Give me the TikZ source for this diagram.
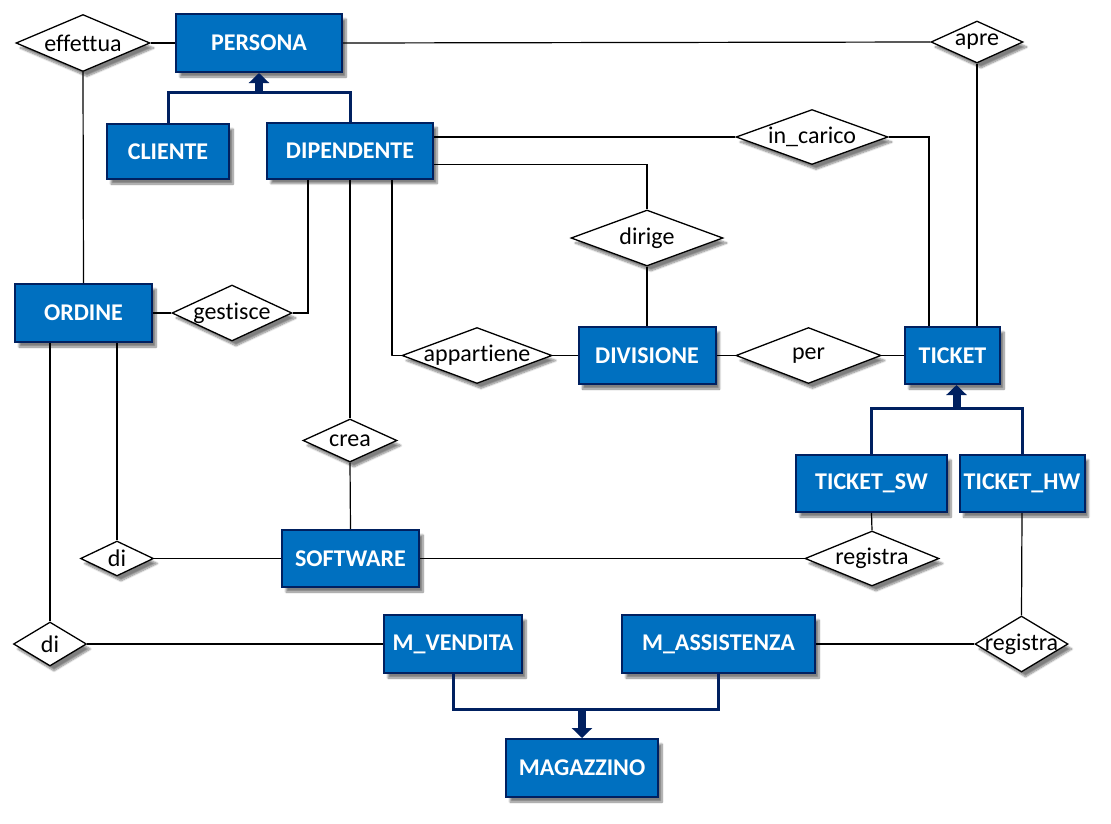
\documentclass[tikz,border=0pt]{standalone}
\usepackage{fontspec}
\setmainfont{Carlito}[Ligatures=NoCommon]
\usetikzlibrary{shapes.geometric,arrows.meta,shadows.blur}
\definecolor{boxfill}{RGB}{0,112,192}
\definecolor{boxdraw}{RGB}{0,32,96}
\tikzset{
  ent/.style={rectangle, fill=boxfill, draw=boxdraw, line width=2pt, inner sep=0pt,
    text=white, font=\fontsize{24}{28}\selectfont\bfseries,
    blur shadow={shadow xshift=4pt, shadow yshift=-5pt, shadow blur steps=8, shadow opacity=50}},
  rel/.style={diamond, fill=white, draw=black, line width=1.3pt, inner sep=0pt,
    font=\fontsize{24}{28}\selectfont,
    blur shadow={shadow xshift=4pt, shadow yshift=-5pt, shadow blur steps=8, shadow opacity=50}},
  conn/.style={draw=black, line width=1.2pt},
  isa/.style={draw=boxdraw, line width=3pt},
  isaarrow/.style={draw=boxdraw, line width=8pt, -{Triangle[width=20pt,length=10pt]}},
}
\newcommand{\zw}[1]{\makebox[0pt]{#1}}
\begin{document}
\begin{tikzpicture}[x=1pt,y=-1pt]
\useasboundingbox (0,0) rectangle (1111,823);
% entities
\node[ent, minimum width=166, minimum height=58] (pers) at (259,43) {PERSONA};
\node[ent, minimum width=122, minimum height=55] (cli) at (168,151.5) {CLIENTE};
\node[ent, minimum width=166, minimum height=56] (dip) at (350,150.5) {DIPENDENTE};
\node[ent, minimum width=137, minimum height=58] (ord) at (83.5,313) {ORDINE};
\node[ent, minimum width=137, minimum height=57] (div) at (647,355.5) {DIVISIONE};
\node[ent, minimum width=95, minimum height=57] (ticket) at (952.5,355.5) {TICKET};
\node[ent, minimum width=151, minimum height=57] (tsw) at (871.5,483.5) {TICKET\_SW};
\node[ent, minimum width=125, minimum height=57] (thw) at (1022,483.5) {TICKET\_HW};
\node[ent, minimum width=137, minimum height=57] (soft) at (350.5,558.5) {SOFTWARE};
\node[ent, minimum width=138, minimum height=58] (mv) at (453,644) {M\_VENDITA};
\node[ent, minimum width=193, minimum height=58] (mass) at (718.5,644) {M\_ASSISTENZA};
\node[ent, minimum width=152, minimum height=58] (mag) at (582,768) {MAGAZZINO};
% relationships
\node[rel, minimum width=134, minimum height=57] (eff) at (83,43) {\zw{effettua}};
\node[rel, minimum width=92, minimum height=42] (apre) at (977,42) {\zw{apre}};
\node[rel, minimum width=152, minimum height=55] (incar) at (812,137) {\zw{in\_carico}};
\node[rel, minimum width=152, minimum height=56] (dirige) at (647,238) {\zw{dirige}};
\node[rel, minimum width=120, minimum height=56] (gest) at (232,313) {\zw{gestisce}};
\node[rel, minimum width=150, minimum height=56] (app) at (477,355.5) {\zw{appartiene}};
\node[rel, minimum width=145, minimum height=56] (per) at (808.5,355.5) {\zw{per}};
\node[rel, minimum width=94, minimum height=43] (crea) at (350,440.5) {\zw{crea}};
\node[rel, minimum width=73, minimum height=35] (diup) at (117,558.5) {\zw{di}};
\node[rel, minimum width=134, minimum height=55] (regup) at (872,558.5) {\zw{registra}};
\node[rel, minimum width=73, minimum height=44] (dilow) at (50,644) {\zw{di}};
\node[rel, minimum width=93, minimum height=56] (reglow) at (1021.5,644) {\zw{registra}};
% connectors
\draw[conn] (eff.east) -- (pers.west);
\draw[conn] (eff.south) -- (ord.north);
\draw[conn] (pers.east) -- (apre.west);
\draw[conn] (apre.south) -- (apre.south |- ticket.north);
\draw[conn] ([yshift=13.5pt]dip.east) -- (incar.west);
\draw[conn] (incar.east) -| ([xshift=-23.5pt]ticket.north);
\draw[conn] ([yshift=-14pt]dip.east) -| (dirige.north);
\draw[conn] (dirige.south) -- (div.north);
\draw[conn] ([xshift=-42pt]dip.south) |- (gest.east);
\draw[conn] (gest.west) -- (ord.east);
\draw[conn] (dip.south) -- (crea.north);
\draw[conn] (crea.south) -- (soft.north);
\draw[conn] ([xshift=42pt]dip.south) |- ([xshift=-10pt]app.west) -- (app.west);
\draw[conn] (app.east) -- (div.west);
\draw[conn] (div.east) -- (per.west);
\draw[conn] (per.east) -- (ticket.west);
\draw[conn] (diup.north |- ord.south) -- (diup.north);
\draw[conn] (diup.east) -- (soft.west);
\draw[conn] (dilow.north |- ord.south) -- (dilow.north);
\draw[conn] (dilow.east) -- (mv.west);
\draw[conn] (soft.east) -- (regup.west);
\draw[conn] (regup.north) -- (tsw.south);
\draw[conn] (mass.east) -- (reglow.west);
\draw[conn] (reglow.north) -- (thw.south);
% inheritance
\draw[isa] (cli.north) |- ([yshift=-19pt]pers.south) -| (dip.north);
\draw[isaarrow] ([yshift=-19.5pt]pers.south) -- (pers.south);
\draw[isa] (tsw.north) |- ([xshift=4pt,yshift=-23pt]ticket.south) -| (thw.north);
\draw[isaarrow] ([xshift=4pt,yshift=-23.5pt]ticket.south) -- ([xshift=4pt]ticket.south);
\draw[isa] (mv.south) |- ([yshift=29pt]mag.north) -| (mass.south);
\draw[isaarrow] ([yshift=29.5pt]mag.north) -- (mag.north);
\end{tikzpicture}
\end{document}
